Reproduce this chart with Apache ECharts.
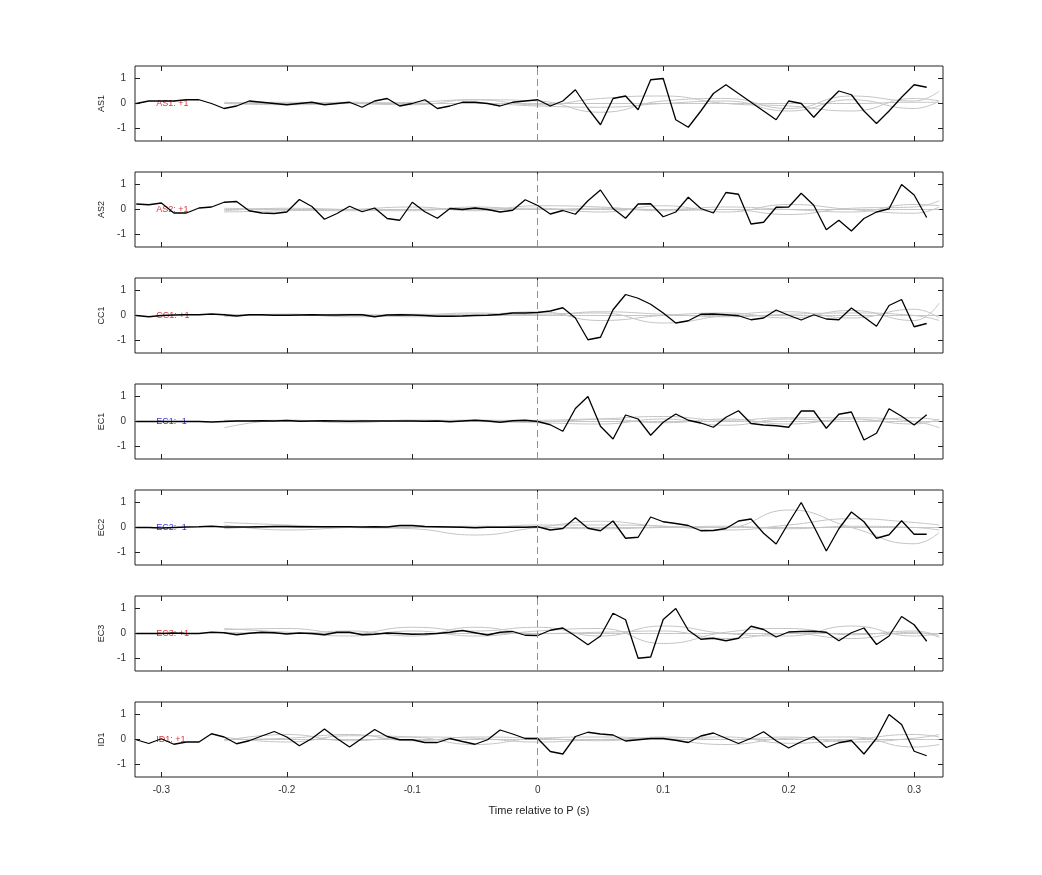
<!DOCTYPE html>
<html><head><meta charset="utf-8">
<script src="https://cdn.jsdelivr.net/npm/echarts@6/dist/echarts.min.js"></script>
<style>html,body{margin:0;padding:0;background:#fff}#c{width:1042px;height:875px}</style>
</head><body><div id="c"></div>
<script>
const channels = ['AS1','AS2','CC1','EC1','EC2','EC3','ID1'];
const polarityLabels = ['AS1: +1','AS2: +1','CC1: +1','EC1: -1','EC2: -1','EC3: +1','ID1: +1'];
const labelColors = ['#d40000','#d40000','#d40000','#0000c8','#0000c8','#d40000','#d40000'];
const xTicks = [-0.3,-0.2,-0.1,0,0.1,0.2,0.3];
const yTicks = [-1,0,1];
const tStart = -0.32, tStep = 0.01;

const AS1 = [0,0.1,0.1,0.1,0.15,0.15,0.0,-0.2,-0.1,0.1,0.05,0,-0.05,0,0.05,-0.05,0,0.05,-0.15,0.1,0.2,-0.1,0,0.15,-0.2,-0.1,0.05,0.05,0,-0.1,0.05,0.1,
 0.15,-0.1,0.1,0.55,-0.2,-0.85,0.2,0.3,-0.25,0.95,1.0,-0.65,-0.95,-0.3,0.4,0.75,0.4,0.05,-0.3,-0.65,0.1,0,-0.55,0,0.5,0.35,-0.3,-0.8,-0.3,0.25,0.75,0.65];
const AS2 = [0.22,0.19,0.26,-0.14,-0.14,0.06,0.1,0.29,0.32,-0.05,-0.14,-0.16,-0.1,0.4,0.12,-0.39,-0.16,0.13,-0.09,0.06,-0.36,-0.43,0.29,-0.09,-0.35,0.04,0,0.06,0,-0.1,-0.03,0.39,
 0.16,-0.18,-0.04,-0.19,0.35,0.78,0.04,-0.35,0.22,0.23,-0.29,-0.1,0.49,0.04,-0.14,0.68,0.61,-0.58,-0.51,0.09,0.1,0.65,0.17,-0.81,-0.43,-0.86,-0.36,-0.1,0.03,1.0,0.58,-0.32];
const CC1 = [0.0,-0.05,0,0.02,0.03,0.03,0.06,0.03,-0.02,0.03,0.03,0.01,0.01,0.02,0.03,0.02,0.02,0.03,0.03,-0.05,0.02,0.03,0.02,0,-0.03,-0.03,-0.02,0,0.01,0.04,0.1,0.1,
 0.12,0.18,0.31,-0.1,-0.97,-0.87,0.23,0.84,0.69,0.45,0.1,-0.3,-0.21,0.05,0.06,0.03,-0.01,-0.17,-0.1,0.22,0.01,-0.18,0.03,-0.14,-0.17,0.3,-0.06,-0.43,0.4,0.64,-0.45,-0.32];
const EC1 = [0,0,0,0,0,0,-0.02,0,0.02,0.02,0.03,0.02,0.04,0.01,0.02,0.03,0.02,0.01,0.02,0.02,0.02,0.02,0.02,0.01,0.02,-0.01,0.02,0.05,0.02,-0.03,0.03,0.05,
 0,-0.13,-0.39,0.52,1.0,-0.19,-0.7,0.26,0.1,-0.55,-0.03,0.3,0.05,-0.06,-0.23,0.17,0.43,-0.08,-0.14,-0.17,-0.23,0.42,0.42,-0.27,0.29,0.38,-0.74,-0.47,0.51,0.21,-0.14,0.27];
const EC2 = [0,0,-0.02,0,0.02,0.03,0.05,0.02,0.02,0.02,0.03,0.04,0.04,0.03,0.03,0.03,0.03,0.03,0.02,0.03,0.02,0.08,0.08,0.04,0.03,0.02,0.01,-0.01,0.01,0.01,0.01,0.01,
 0.03,-0.1,-0.04,0.39,-0.03,-0.13,0.26,-0.43,-0.39,0.42,0.23,0.16,0.08,-0.13,-0.12,-0.04,0.26,0.34,-0.23,-0.66,0.19,1.0,0.05,-0.94,-0.05,0.62,0.23,-0.43,-0.29,0.27,-0.27,-0.27];
const EC3 = [0,0,0,0.02,0,0,0.05,0.03,-0.05,0.01,0.05,0.03,-0.02,0.02,0,-0.05,0.05,0.05,-0.05,-0.03,0.02,0,-0.03,-0.02,0,0.05,0.12,0.03,-0.06,0.05,0.08,-0.07,
 -0.08,0.13,0.22,-0.1,-0.45,-0.1,0.81,0.55,-0.99,-0.94,0.56,1.0,0.13,-0.23,-0.19,-0.29,-0.19,0.29,0.16,-0.14,0.06,0.08,0.09,0.05,-0.29,0.03,0.22,-0.44,-0.1,0.68,0.35,-0.31];
const ID1 = [-0.01,-0.16,0.03,-0.19,-0.1,-0.1,0.23,0.1,-0.17,-0.05,0.14,0.32,0.1,-0.25,0.04,0.42,0.04,-0.3,0.05,0.4,0.12,-0.01,-0.01,-0.12,-0.12,0.04,-0.08,-0.19,-0.01,0.38,0.22,0.04,
 0.04,-0.48,-0.58,0.12,0.29,0.22,0.18,-0.06,-0.01,0.04,0.04,-0.03,-0.12,0.14,0.26,0.05,-0.16,0.05,0.31,-0.05,-0.34,-0.09,0.12,-0.32,-0.13,-0.04,-0.58,0.05,1.0,0.6,-0.47,-0.65];
const traces = [AS1,AS2,CC1,EC1,EC2,EC3,ID1];

const greyTimes = [-0.25,-0.2,-0.15,-0.1,-0.05,0,0.05,0.1,0.15,0.2,0.25,0.3,0.32];
const greyAS1 = [[0.0,0.0,0.0,0.0,0.0,0.0,0.0,0.0,0.0,0.0,0.0,0.05,0.05],[0.0,-0.05,0.0,0.05,0.15,0.1,-0.35,0.1,0.2,-0.2,0.3,0.1,0.5],[0.0,0.05,0.0,-0.05,0.15,-0.05,0.2,0.3,0.0,-0.1,-0.3,0.2,0.1],[0.05,0.0,0.05,0.0,0.0,-0.1,-0.15,0.0,0.1,-0.3,0.15,-0.2,0.1]];
const greyAS2 = [[0.0,0.0,0.0,0.0,0.0,0.0,0.0,0.0,0.0,0.0,0.0,0.0,0.0],[-0.1,-0.05,0.0,0.1,-0.05,0.15,0.1,-0.05,0.0,-0.2,0.05,0.1,0.35],[0.05,0.0,-0.05,0.0,0.05,0.05,-0.1,0.15,-0.1,0.2,0.0,-0.15,0.1],[-0.05,0.05,0.0,-0.05,0.1,0.0,0.05,0.0,0.1,0.0,-0.1,0.2,0.15]];
const greyCC1 = [[0.0,0.0,0.0,0.0,0.0,0.0,0.0,0.0,0.0,0.0,0.0,0.0,0.0],[-0.05,0.05,0.0,0.05,0.05,0.15,-0.2,0.0,0.1,-0.1,0.2,-0.2,0.5],[0.05,0.0,0.05,-0.05,0.0,0.05,0.1,-0.3,0.0,0.15,-0.1,0.25,-0.1],[0.0,0.05,-0.05,0.0,0.1,0.0,0.15,0.05,-0.05,0.05,0.1,0.0,-0.2]];
const greyEC1 = [[0.0,0.0,0.0,0.0,0.0,0.0,0.0,0.0,0.0,0.0,0.0,0.0,0.0],[-0.25,0.05,0.0,0.05,0.05,0.0,0.1,0.2,0.05,0.15,0.15,0.0,-0.25],[0.0,0.05,-0.05,0.05,0.0,-0.05,-0.1,0.1,-0.15,0.1,0.0,0.15,0.05],[0.05,0.0,0.05,0.0,0.05,0.05,0.1,-0.05,0.1,-0.1,0.1,-0.1,0.1]];
const greyEC2 = [[0.0,0.0,0.0,0.0,0.0,0.0,0.0,0.0,0.0,0.0,0.0,0.0,0.0],[0.2,0.1,0.0,-0.05,-0.3,0.0,0.25,0.05,0.0,0.7,0.0,-0.65,-0.2],[0.1,-0.1,0.0,0.05,0.0,0.1,0.1,0.05,-0.1,0.1,0.35,0.2,0.1],[-0.05,0.05,0.0,0.0,0.05,0.0,-0.05,0.0,0.05,-0.05,0.05,0.0,-0.1]];
const greyEC3 = [[0.0,0.0,0.0,0.0,0.0,0.0,0.0,0.0,0.0,0.0,0.0,0.0,0.0],[0.15,0.2,0.0,0.25,0.1,0.25,-0.1,0.3,0.0,-0.1,0.3,-0.1,0.0],[0.2,0.05,-0.1,0.1,-0.1,0.1,0.2,-0.4,0.05,0.2,-0.05,0.1,-0.1],[0.05,0.0,0.1,-0.1,0.25,0.0,0.05,0.1,-0.2,0.0,-0.2,0.05,-0.15]];
const greyID1 = [[0.0,0.0,0.0,0.0,0.0,0.0,0.0,0.0,0.0,0.0,0.0,0.0,0.0],[0.1,-0.1,0.15,0.1,-0.2,0.05,0.1,0.0,-0.2,0.05,0.1,-0.3,-0.2],[-0.05,0.2,-0.05,0.1,0.05,-0.1,0.0,0.05,0.1,-0.15,0.0,0.2,0.1],[0.0,0.05,0.2,-0.05,0.1,0.05,-0.05,0.1,0.0,0.1,-0.1,0.05,0.2]];
const greys = [greyAS1,greyAS2,greyCC1,greyEC1,greyEC2,greyEC3,greyID1];

const chart = echarts.init(document.getElementById('c'));
const grids=[], xAxes=[], yAxes=[], series=[];
const L=135, W=808, T0=66, DY=106, H=75;
const font = {fontFamily:'Liberation Sans, Arial, sans-serif'};
channels.forEach((ch,i)=>{
  grids.push({left:L,width:W,top:T0+DY*i,height:H,show:true,borderColor:'#222',borderWidth:1});
  const last = i===channels.length-1;
  const xb = {gridIndex:i,type:'value',min:-0.321,max:0.323,interval:0.1,
    axisLine:{show:false,onZero:false},splitLine:{show:false},
    axisTick:{show:true,inside:true,length:5,lineStyle:{color:'#222'},customValues:xTicks},
  };
  xAxes.push(Object.assign({},xb,{position:'bottom',
    axisLabel:{show:last,customValues:xTicks,fontSize:10,color:'#333',margin:8,...font,
      formatter:v=>String(Math.round(v*10)/10)},
    name:last?'Time relative to P (s)':'',nameLocation:'middle',nameGap:28,
    nameTextStyle:{fontSize:11,color:'#222',...font}}));
  xAxes.push(Object.assign({},xb,{position:'top',axisLabel:{show:false}}));
  const yb = {gridIndex:i,type:'value',min:-1.5,max:1.5,interval:1,
    axisLine:{show:false,onZero:false},splitLine:{show:false},
    axisTick:{show:true,inside:true,length:5,lineStyle:{color:'#222'},customValues:yTicks}};
  yAxes.push(Object.assign({},yb,{position:'left',
    axisLabel:{show:true,customValues:yTicks,fontSize:10,color:'#333',margin:9,...font},
    name:ch,nameLocation:'middle',nameGap:24,nameRotate:90,nameTextStyle:{fontSize:9,color:'#222',...font}}));
  yAxes.push(Object.assign({},yb,{position:'right',axisLabel:{show:false}}));
  greys[i].forEach(g=>{
    series.push({type:'line',xAxisIndex:2*i,yAxisIndex:2*i,smooth:0.5,symbol:'none',silent:true,
      lineStyle:{color:'#c4c4c4',width:1},data:g.map((v,j)=>[greyTimes[j],v])});
  });
  series.push({type:'line',xAxisIndex:2*i,yAxisIndex:2*i,symbol:'none',
    lineStyle:{color:'#000',width:1.3},data:traces[i].map((v,j)=>[tStart+j*tStep,v]),
    markLine:{silent:true,symbol:'none',label:{show:false},
      lineStyle:{color:'#e07070',type:[7,4],width:1},data:[{xAxis:0}]}});
  series.push({type:'scatter',xAxisIndex:2*i,yAxisIndex:2*i,symbolSize:0,silent:true,
    data:[[-0.304,0]],label:{show:true,position:'right',distance:0,formatter:polarityLabels[i],
      color:labelColors[i],fontSize:9,...font}});
});
chart.setOption({animation:false,grid:grids,xAxis:xAxes,yAxis:yAxes,series:series});
</script></body></html>
